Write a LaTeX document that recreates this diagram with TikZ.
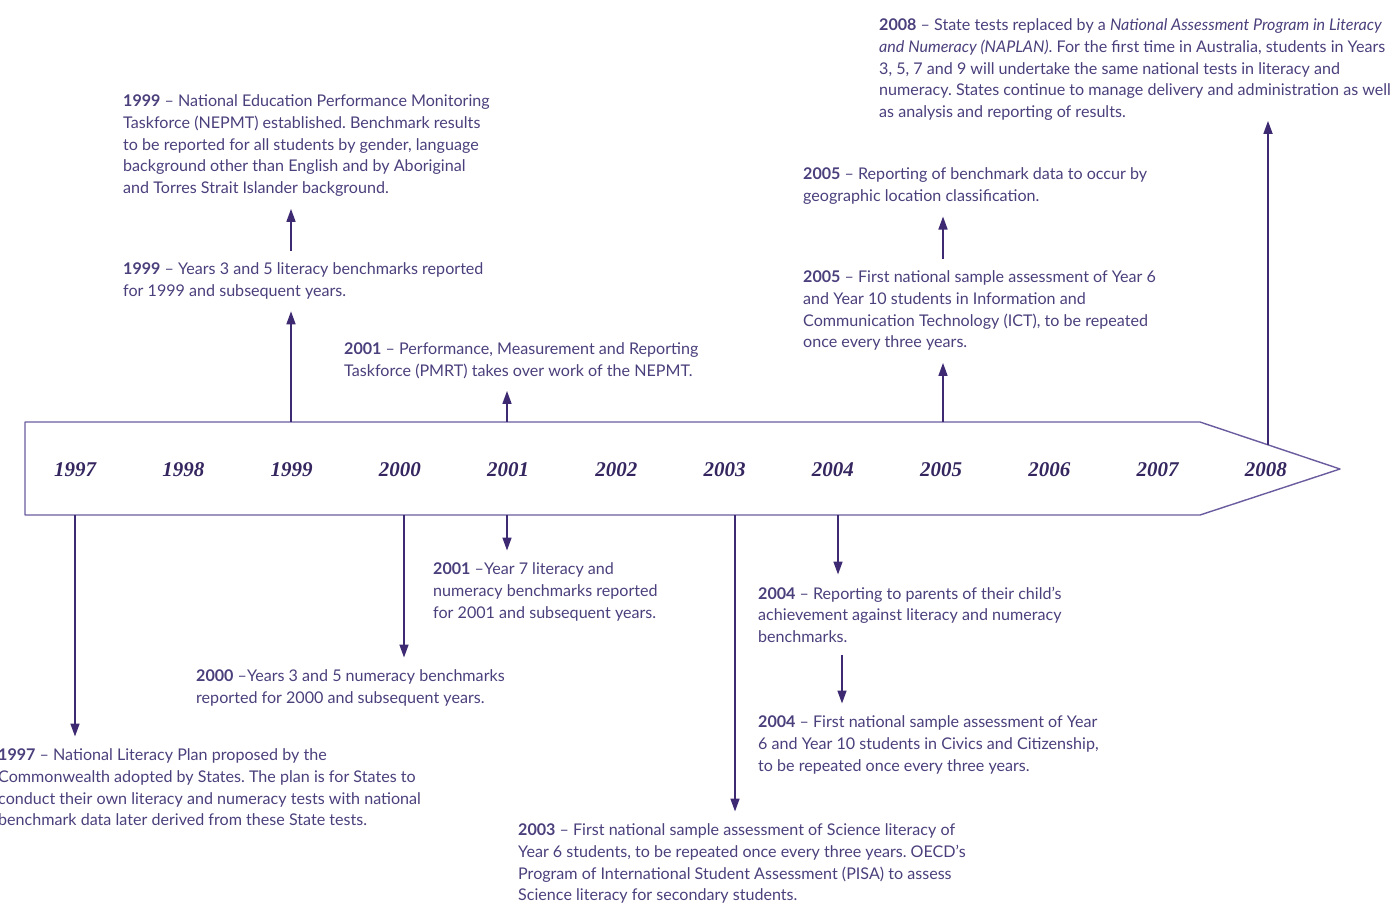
\documentclass[tikz,border=0pt]{standalone}
\usepackage{fontspec}
\setmainfont{Lato}
\newfontfamily\yearfont{Liberation Serif}
\usetikzlibrary{arrows.meta}
\definecolor{tlline}{HTML}{6A5C9E}
\definecolor{tltext}{HTML}{4B3F7C}
\definecolor{tlarrow}{HTML}{3D2A72}
\definecolor{tlyear}{HTML}{35265F}
\frenchspacing
\begin{document}
\begin{tikzpicture}[x=1pt, y=-1pt, line join=round, >={Triangle[width=9pt,length=13pt]},
	event/.style={anchor=north west, inner sep=0pt, align=left, font=\fontsize{16.1}{21.8}\selectfont, text=tltext},
	yr/.style={font=\yearfont\bfseries\itshape\fontsize{21}{21}\selectfont, text=tlyear},
	link/.style={->, draw=tlarrow, line width=1.6pt, shorten >=12pt},
	relay/.style={link, shorten <=12pt}]
	\useasboundingbox (0,0) rectangle (1396,903);
	\draw[tlline, line width=1.4pt] (25,422) -- (1200,422) -- (1340,469) -- (1200,515) -- (25,515) -- cycle;
	\foreach \yy [count=\i from 0] in {1997,...,2008}
		\node[yr] (y\yy) at (75+108.27*\i,469.5) {\yy};
	\coordinate (s1997) at (75,515);
	\coordinate (s1999) at (291,422);
	\coordinate (s2000) at (404,515);
	\coordinate (s2001u) at (507,422);
	\coordinate (s2001d) at (507,515);
	\coordinate (s2003) at (735,515);
	\coordinate (s2004) at (838,515);
	\coordinate (s2005) at (943,422);
	\coordinate (s2008) at (1268,444.8);
	\node[event] (e1997) at (-2,748.5) {\textbf{1997} – National Literacy Plan proposed by the\\Commonwealth adopted by States. The plan is for States to\\conduct their own literacy and numeracy tests with national\\benchmark data later derived from these State tests.};
	\node[event] (e1999a) at (123,94.5) {\textbf{1999} – National Education Performance Monitoring\\Taskforce (NEPMT) established. Benchmark results\\to be reported for all students by gender, language\\background other than English and by Aboriginal\\and Torres Strait Islander background.};
	\node[event] (e1999b) at (123,262.5) {\textbf{1999} – Years 3 and 5 literacy benchmarks reported\\for 1999 and subsequent years.};
	\node[event] (e2000) at (196,669.5) {\textbf{2000} –Years 3 and 5 numeracy benchmarks\\reported for 2000 and subsequent years.};
	\node[event] (e2001a) at (344,342.5) {\textbf{2001} – Performance, Measurement and Reporting\\Taskforce (PMRT) takes over work of the NEPMT.};
	\node[event] (e2001b) at (433,562.5) {\textbf{2001} –Year 7 literacy and\\numeracy benchmarks reported\\for 2001 and subsequent years.};
	\node[event] (e2003) at (518,823.5) {\textbf{2003} – First national sample assessment of Science literacy of\\Year 6 students, to be repeated once every three years. OECD's\\Program of International Student Assessment (PISA) to assess\\Science literacy for secondary students.};
	\node[event] (e2004a) at (758,586.5) {\textbf{2004} – Reporting to parents of their child's\\achievement against literacy and numeracy\\benchmarks.};
	\node[event] (e2004b) at (758,715.5) {\textbf{2004} – First national sample assessment of Year\\6 and Year 10 students in Civics and Citizenship,\\to be repeated once every three years.};
	\node[event] (e2005a) at (803,270.5) {\textbf{2005} – First national sample assessment of Year 6\\and Year 10 students in Information and\\Communication Technology (ICT), to be repeated\\once every three years.};
	\node[event] (e2005b) at (803,167.5) {\textbf{2005} – Reporting of benchmark data to occur by\\geographic location classification.};
	\node[event] (e2008) at (879,18.5) {\textbf{2008} – State tests replaced by a \textit{National Assessment Program in Literacy}\\\textit{and Numeracy (NAPLAN)}. For the first time in Australia, students in Years\\3, 5, 7 and 9 will undertake the same national tests in literacy and\\numeracy. States continue to manage delivery and administration as well\\as analysis and reporting of results.};
	\draw[link] (s1997) -- (s1997 |- e1997.north);
	\draw[link] (s1999) -- (s1999 |- e1999b.south);
	\draw[relay] (s1999 |- e1999b.north) -- (s1999 |- e1999a.south);
	\draw[link] (s2000) -- (s2000 |- e2000.north);
	\draw[link] (s2001u) -- (s2001u |- e2001a.south);
	\draw[link] (s2001d) -- (s2001d |- e2001b.north);
	\draw[link] (s2003) -- (s2003 |- e2003.north);
	\draw[link] (s2004) -- (s2004 |- e2004a.north);
	\draw[relay] ([xshift=4pt]s2004 |- e2004a.south) -- ([xshift=4pt]s2004 |- e2004b.north);
	\draw[link] (s2005) -- (s2005 |- e2005a.south);
	\draw[relay] (s2005 |- e2005a.north) -- (s2005 |- e2005b.south);
	\draw[link, shorten >=0pt] (s2008) -- (s2008 |- e2008.south);
\end{tikzpicture}
\end{document}
